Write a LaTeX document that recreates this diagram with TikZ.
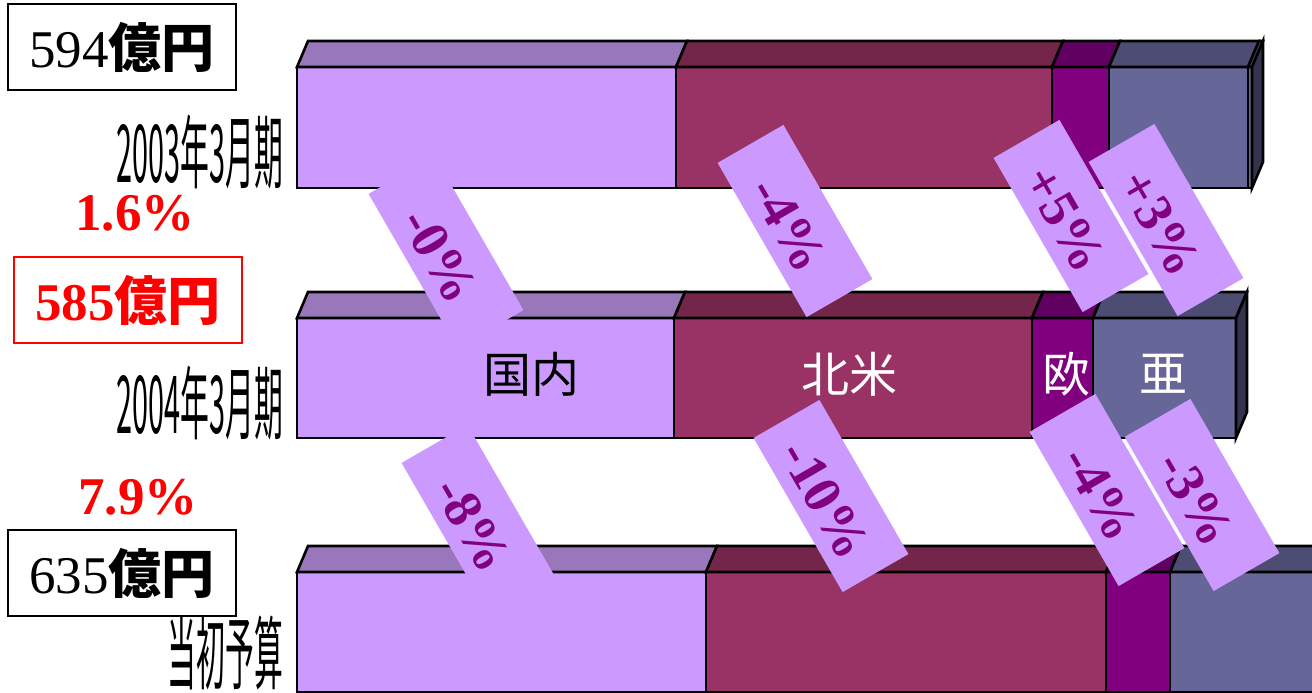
\documentclass[tikz,border=0pt]{standalone}
\usepackage{fontspec}
\usepackage{graphicx}
\setmainfont{Liberation Serif}
\newfontfamily\jp{Noto Sans CJK JP}
\definecolor{domF}{HTML}{CC99FF}
\definecolor{domT}{HTML}{9977BB}
\definecolor{naF}{HTML}{993366}
\definecolor{naT}{HTML}{732649}
\definecolor{euF}{HTML}{800080}
\definecolor{euT}{HTML}{600060}
\definecolor{asF}{HTML}{666699}
\definecolor{asT}{HTML}{4D4D73}
\definecolor{asS}{HTML}{33334D}
\newcommand\myseg[6]{%
  \draw[barline, fill=#5] (#1,#3) rectangle (#2,#4);
  \draw[barline, fill=#6] (#1,#3) -- (#2,#3) -- (#2+11,#3-26) -- (#1+11,#3-26) -- cycle;}
\newcommand\myside[3]{%
  \draw[barline, fill=asS] (#1,#2) -- (#1+11,#2-26) -- (#1+11,#3-26) -- (#1,#3) -- cycle;}
\newcommand\yeartext[1]{\scalebox{0.36}[1]{\jp\fontsize{80}{80}\selectfont #1}}
\tikzset{
  barline/.style={draw=black, line width=2.6pt},
  pbox/.style={fill=domF, draw=none, minimum width=178pt, minimum height=76pt, inner sep=0pt, rotate=-60},
  ptext/.style={text=euF, font=\fontsize{54}{54}\selectfont\bfseries, inner sep=0pt, rotate=-60, yshift=-7pt},
  valbox/.style={draw=black, line width=1.4pt, minimum width=228pt, minimum height=86pt, inner sep=0pt},
  yearlbl/.style={anchor=east, inner sep=0pt},
  redpct/.style={text=red, font=\fontsize{53}{53}\selectfont\bfseries, inner sep=0pt},
  catlbl/.style={font=\jp\fontsize{48}{48}\selectfont, inner sep=0pt}
}
\begin{document}
\begin{tikzpicture}[x=1pt, y=-1pt]
\useasboundingbox (0,0) rectangle (1312,693);
\clip (0,0) rectangle (1312,693);
\fill[white] (0,0) rectangle (1312,693);
% bar 1 (2003)
\myseg{297}{676}{67}{188}{domF}{domT}
\myseg{676}{1052}{67}{188}{naF}{naT}
\myseg{1052}{1109}{67}{188}{euF}{euT}
\myseg{1109}{1248}{67}{188}{asF}{asT}
\myseg{1248}{1252}{67}{188}{asF}{asT}
\myside{1252}{67}{188}
% bar 2 (2004)
\myseg{297}{674}{318}{438}{domF}{domT}
\myseg{674}{1032}{318}{438}{naF}{naT}
\myseg{1032}{1093}{318}{438}{euF}{euT}
\myseg{1093}{1236}{318}{438}{asF}{asT}
\myside{1236}{318}{438}
% bar 3 (budget)
\myseg{297}{706}{572}{692}{domF}{domT}
\myseg{706}{1106}{572}{692}{naF}{naT}
\myseg{1106}{1170}{572}{692}{euF}{euT}
\myseg{1170}{1345}{572}{692}{asF}{asT}
% left labels
\node[valbox] (v1) at (122,47) {\fontsize{53}{53}\selectfont 594{\jp\bfseries 億円}};
\node[valbox, draw=red] (v2) at (128,300) {\color{red}\fontsize{53}{53}\selectfont\bfseries 585{\jp\bfseries 億円}};
\node[valbox] (v3) at (122,573) {\fontsize{53}{53}\selectfont 635{\jp\bfseries 億円}};
\node[yearlbl] (y1) at (283,152) {\yeartext{2003年3月期}};
\node[yearlbl] (y2) at (283,403) {\yeartext{2004年3月期}};
\node[yearlbl] (y3) at (283,653) {\yeartext{当初予算}};
\node[redpct] (r1) at (135,213) {1.6\%};
\node[redpct] (r2) at (138,497) {7.9\%};
% category labels
\node[catlbl] (c1) at (531,374) {国内};
\node[catlbl, text=white] (c2) at (849,374) {北米};
\node[catlbl, text=white] (c3) at (1066,374) {欧};
\node[catlbl, text=white] (c4) at (1163,374) {亜};
% change boxes
\node[pbox] (b1) at (446,252) {};
\node[ptext] (t1) at (446,252) {-0\%};
\node[pbox] (b2) at (795,221) {};
\node[ptext] (t2) at (795,221) {-4\%};
\node[pbox] (b3) at (1071,216) {};
\node[ptext] (t3) at (1071,216) {+5\%};
\node[pbox] (b4) at (1166,220) {};
\node[ptext] (t4) at (1166,220) {+3\%};
\node[pbox] (b5) at (479,521) {};
\node[ptext] (t5) at (479,521) {-8\%};
\node[pbox] (b6) at (831,496) {};
\node[ptext] (t6) at (831,496) {-10\%};
\node[pbox] (b7) at (1107,490) {};
\node[ptext] (t7) at (1107,490) {-4\%};
\node[pbox] (b8) at (1202,495) {};
\node[ptext] (t8) at (1202,495) {-3\%};
\end{tikzpicture}
\end{document}
